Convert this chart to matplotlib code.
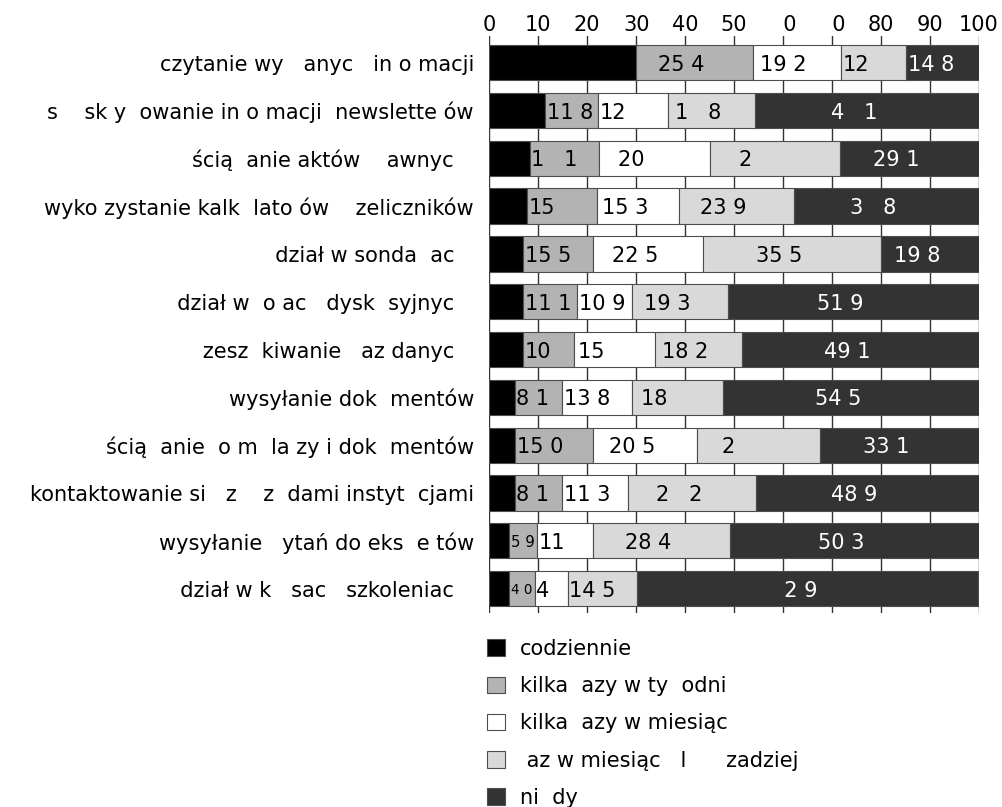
import numpy as np
import matplotlib
matplotlib.use("Agg")
import matplotlib.pyplot as plt

plt.rcParams['font.family'] = 'DejaVu Sans'

# activities, top to bottom
activities = [
    "czytanie wybranych informacji",
    "subskrybowanie informacji (newsletterów",
    "ściąganie aktów prawnych",
    "wykorzystanie kalkulatorów/przeliczników",
    "udział w sondażach",
    "udział w forach dyskusyjnych",
    "przeszukiwanie baz danych",
    "wysyłanie dokumentów",
    "ściąganie formularzy i dokumentów",
    "kontaktowanie się z urzędami/instytucjami",
    "wysyłanie pytań do ekspertów",
    "udział w kursach/szkoleniach",
]

categories = ["codziennie", "kilka razy w tygodniu", "kilka razy w miesiącu",
              "raz w miesiącu lub rzadziej", "nigdy"]

# bar lengths (%)
daily = [30.0, 11.4, 8.3, 7.8, 6.9, 6.9, 6.9, 5.2, 5.2, 5.2, 4.1, 4.1]
weekly = [23.8, 10.9, 14.1, 14.3, 14.3, 11.1, 10.5, 9.7, 16.0, 9.7, 5.7, 5.2]
monthly = [18.0, 14.3, 22.7, 16.7, 22.5, 11.2, 16.4, 14.3, 21.3, 13.5, 11.4, 6.7]
rarely = [13.4, 17.7, 26.5, 23.4, 36.3, 19.5, 17.9, 18.6, 25.0, 26.1, 28.0, 14.1]
never = [14.8, 45.7, 28.4, 37.8, 20.0, 51.3, 48.3, 52.2, 32.5, 45.5, 50.8, 69.8]

# printed value labels
weekly_lab = ["25.4%", "11.8%", "16.1%", "15.7%", "15.5%", "11.1%", "10.6%",
              "8.1%", "15.0%", "8.1%", "5.9%", "4.0%"]
monthly_lab = ["19.2%", "12.6%", "20.6%", "15.3%", "22.5%", "10.9%", "15.7%",
               "13.8%", "20.5%", "11.3%", "11.7%", "4.6%"]
rarely_lab = ["12.7%", "17.8%", "26.7%", "23.9%", "35.5%", "19.3%", "18.2%",
              "18.6%", "27.6%", "26.2%", "28.4%", "14.5%"]
never_lab = ["14.8%", "47.1%", "29.1%", "37.8%", "19.8%", "51.9%", "49.1%",
             "54.5%", "33.1%", "48.9%", "50.3%", "72.9%"]

xticks = [0, 10, 20, 30, 40, 50, 60, 70, 80, 90, 100]

colors = ["#000000", "#b3b3b3", "#ffffff", "#d9d9d9", "#333333"]
text_colors = [None, "black", "black", "black", "white"]

# glyphs that the source font could not draw -> blank gap of similar width
GAP = {'6': '  ', '7': '  ', '.': ' ', '%': '   ', 'r': ' ', 'b': '  ',
       'h': '  ', 'f': ' ', 'u': '  ', 'p': '  ', 'g': '  ', 'ż': '  ',
       'ę': '  ', '/': ' ', '(': ' ', ')': ' '}


def blank(s):
    out = "".join(GAP.get(c, c) for c in s)
    if s and s[-1] in GAP:
        out += " "
    return out


FS = 15

fig = plt.figure(figsize=(10.02, 8.07), dpi=100)
ax = fig.add_axes([0.4883, 0.2404, 0.4887, 0.7150])

y = np.arange(len(activities))
left = np.zeros(len(activities))
series = [daily, weekly, monthly, rarely, never]
labels = [None, weekly_lab, monthly_lab, rarely_lab, never_lab]

handles = []
texts = []
for vals, col, name, labs, tc in zip(series, colors, categories, labels, text_colors):
    vals = np.array(vals)
    b = ax.barh(y, vals, left=left, height=0.74, color=col,
                edgecolor="#4d4d4d", linewidth=0.8, label=blank(name))
    handles.append(b)
    if labs is not None:
        for i, lab in enumerate(labs):
            t = ax.text(left[i] + vals[i] / 2, y[i], blank(lab), ha="center",
                        va="center_baseline", color=tc, fontsize=FS)
            texts.append((t, left[i], vals[i]))
    left += vals

ax.set_xlim(0, 100)
ax.set_ylim(11.51, -0.56)
ax.xaxis.tick_top()
ax.set_xticks(xticks, [blank(str(v)) for v in xticks])
ax.set_yticks(y, [blank(a) for a in activities])
ax.tick_params(axis="x", length=0, pad=1, labelsize=FS)
ax.tick_params(axis="y", length=0, pad=11, labelsize=FS)
ax.grid(axis="x", color="#333333", linewidth=1)
ax.grid(axis="y", visible=False)
ax.set_axisbelow(True)
for sp in ax.spines.values():
    sp.set_visible(False)

# keep every label inside its segment: pin to the left edge, squeeze if needed
renderer = fig.canvas.get_renderer()
ppu = ax.get_window_extent(renderer).width / 100
for t, x0, w in texts:
    full = t.get_window_extent(renderer).width
    bar_px = w * ppu
    if full > bar_px - 2:
        t.set_text(t.get_text().rstrip())
        t.set_ha("left")
        t.set_x(x0 + 1.5 / ppu)
        vis = t.get_window_extent(renderer).width
        if vis > bar_px - 4:
            t.set_fontsize(FS * (bar_px - 4) / vis)

fig.legend(handles=handles, loc="upper left", bbox_to_anchor=(0.486, 0.2085),
           frameon=False, handlelength=0.85, handleheight=0.85,
           handletextpad=0.75, labelspacing=0.83, borderpad=0,
           borderaxespad=0, fontsize=FS)

fig.savefig("out.png", dpi=100)
